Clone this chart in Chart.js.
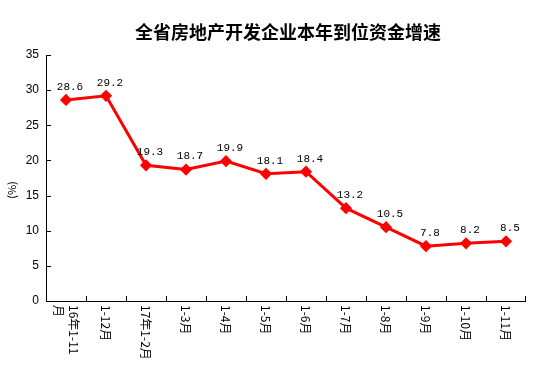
<!DOCTYPE html>
<html>
<head>
<meta charset="utf-8">
<script src="https://cdn.jsdelivr.net/npm/chart.js@4/dist/chart.umd.min.js"></script>
<style>
    html, body { margin: 0; padding: 0; background: #fff; }
    #wrap { width: 554px; height: 387px; position: relative; }
</style>
</head>
<body>
<div id="wrap"><canvas id="chart"></canvas></div>
<script>
// 数据
const titleText = '全省房地产开发企业本年到位资金增速';
const categories = ['16年1-11月', '1-12月', '17年1-2月', '1-3月', '1-4月', '1-5月', '1-6月', '1-7月', '1-8月', '1-9月', '1-10月', '1-11月'];
// 换行后的标签（第一项分两行）
const categoryLines = [['16年1-11', '月'], ['1-12月'], ['17年1-2月'], ['1-3月'], ['1-4月'], ['1-5月'], ['1-6月'], ['1-7月'], ['1-8月'], ['1-9月'], ['1-10月'], ['1-11月']];
const growthRate = [28.6, 29.2, 19.3, 18.7, 19.9, 18.1, 18.4, 13.2, 10.5, 7.8, 8.2, 8.5];
const yTicks = [0, 5, 10, 15, 20, 25, 30, 35];

const cjkFont = '"Noto Sans CJK SC", "DejaVu Sans", sans-serif';

// 自定义绘制：标题、轴标题、x轴竖排标签、内侧刻度、数据标签
const decorPlugin = {
    id: 'decor',
    afterDraw(chart) {
        const ctx = chart.ctx;
        const xs = chart.scales.x;
        const ys = chart.scales.y;
        const area = chart.chartArea;
        ctx.save();

        // 标题
        ctx.fillStyle = '#000';
        ctx.font = 'bold 18px ' + cjkFont;
        ctx.textAlign = 'center';
        ctx.textBaseline = 'middle';
        ctx.fillText(titleText, 288, 32);

        // 轴线
        ctx.strokeStyle = '#000';
        ctx.lineWidth = 1;
        ctx.beginPath();
        ctx.moveTo(area.left + 0.5, area.top);
        ctx.lineTo(area.left + 0.5, area.bottom + 0.5);
        ctx.lineTo(area.right, area.bottom + 0.5);
        ctx.stroke();

        // y轴内侧刻度
        ctx.beginPath();
        yTicks.forEach(v => {
            const y = Math.round(ys.getPixelForValue(v)) + 0.5;
            ctx.moveTo(area.left, y);
            ctx.lineTo(area.left + 5, y);
        });
        // x轴内侧刻度（类别边界）
        for (let i = 1; i <= categories.length; i++) {
            const x = Math.round((xs.getPixelForValue(i - 1) + xs.getPixelForValue(Math.min(i, categories.length - 1))) / 2);
            const px = i === categories.length ? area.right - 0.5 : x + 0.5;
            ctx.moveTo(px, area.bottom);
            ctx.lineTo(px, area.bottom - 5);
        }
        ctx.stroke();

        // y轴标题
        ctx.save();
        ctx.translate(12, 190);
        ctx.rotate(-Math.PI / 2);
        ctx.font = '11px ' + cjkFont;
        ctx.textAlign = 'center';
        ctx.textBaseline = 'middle';
        ctx.fillText('(%)', 0, 0);
        ctx.restore();

        // x轴标签（顺时针竖排）
        ctx.font = '12px ' + cjkFont;
        categoryLines.forEach((lines, i) => {
            const cx = xs.getPixelForValue(i);
            ctx.save();
            ctx.translate(cx, area.bottom + 4);
            ctx.rotate(Math.PI / 2);
            ctx.textAlign = 'left';
            ctx.textBaseline = 'middle';
            const n = lines.length;
            lines.forEach((line, j) => {
                // 旋转后 y 方向向左
                const off = (j - (n - 1) / 2) * 15;
                ctx.fillText(line, 0, off);
            });
            ctx.restore();
        });

        // 数据标签
        const meta = chart.getDatasetMeta(0);
        ctx.font = '11px "Liberation Mono", "DejaVu Sans Mono", monospace';
        ctx.textAlign = 'center';
        ctx.textBaseline = 'middle';
        meta.data.forEach((pt, i) => {
            ctx.fillText(growthRate[i].toFixed(1), pt.x + 4, pt.y - 13);
        });

        ctx.restore();
    }
};

const chart = new Chart(document.getElementById('chart'), {
    type: 'line',
    data: {
        labels: categories,
        datasets: [{
            label: '增速',
            data: growthRate,
            borderColor: '#ff0000',
            backgroundColor: '#ff0000',
            borderWidth: 3,
            pointStyle: 'rectRot',
            pointRadius: 4,
            pointHoverRadius: 4,
            tension: 0
        }]
    },
    options: {
        responsive: true,
        maintainAspectRatio: false,
        animation: false,
        layout: {
            padding: { top: 55, right: 28, left: 0, bottom: 0 }
        },
        plugins: {
            legend: { display: false },
            title: { display: false },
            tooltip: { enabled: false }
        },
        scales: {
            x: {
                offset: true,
                grid: { display: false, offset: true },
                border: { display: false },
                ticks: { display: false },
                afterFit(scale) { scale.height = 86; }
            },
            y: {
                min: 0,
                max: 35,
                grid: { display: false, drawTicks: false },
                border: { display: false },
                ticks: {
                    stepSize: 5,
                    padding: 7,
                    color: '#000',
                    font: { family: '"Liberation Sans", Arial, sans-serif', size: 12 }
                },
                afterFit(scale) { scale.width = 46; }
            }
        }
    },
    plugins: [decorPlugin]
});
</script>
</body>
</html>
